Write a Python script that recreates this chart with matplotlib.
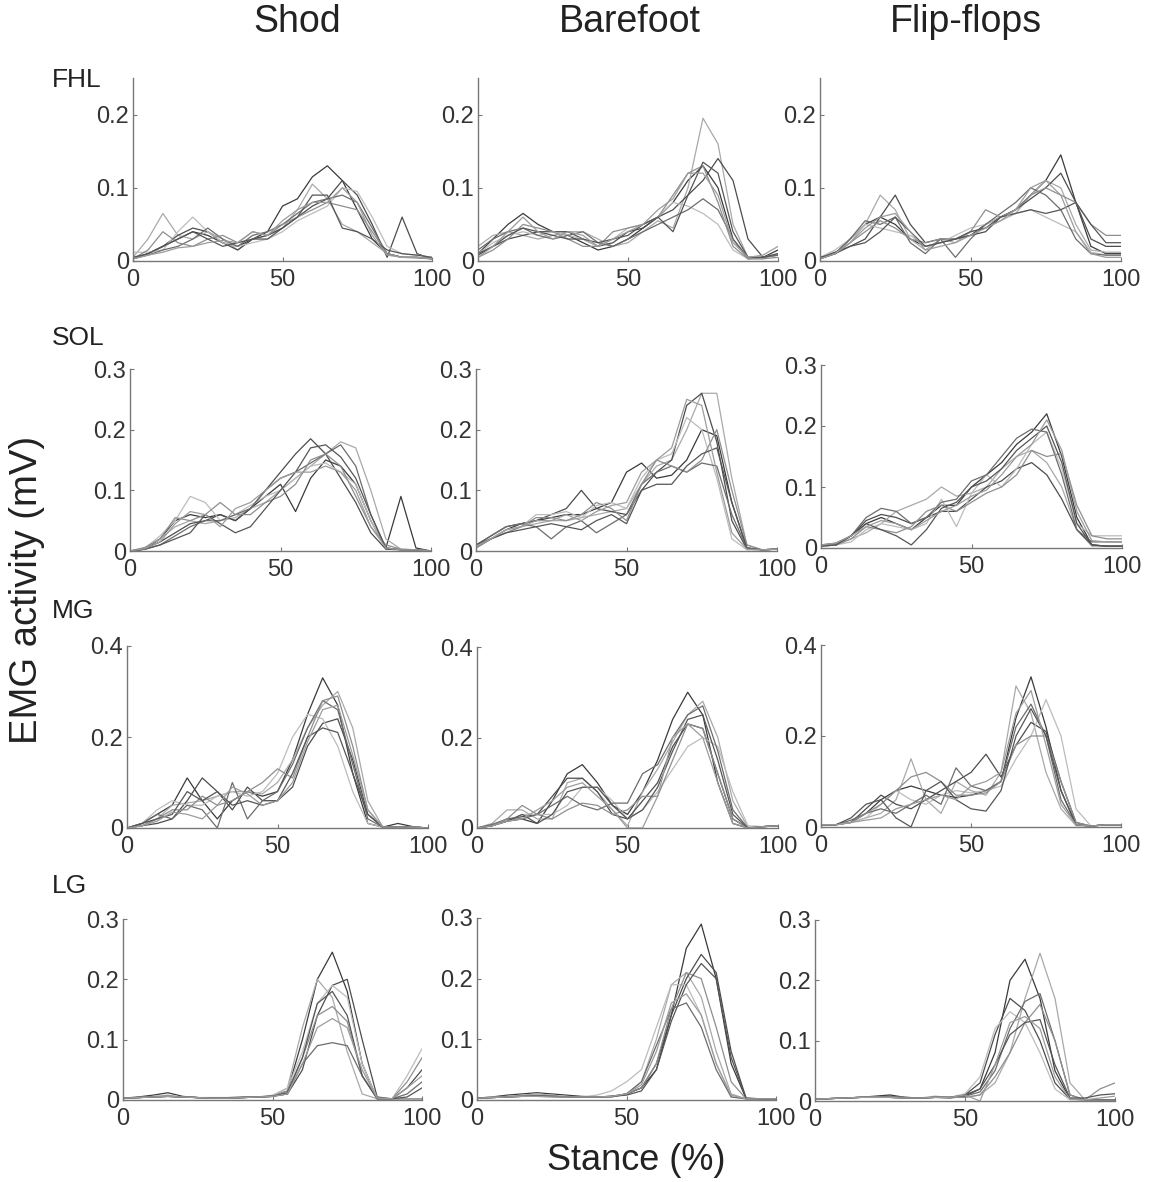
import matplotlib
matplotlib.use("Agg")
import matplotlib.pyplot as plt

plt.rcParams["font.family"] = ["Liberation Sans", "DejaVu Sans"]

# stance (%) sample points shared by every curve
STANCE = list(range(0, 101, 5))

CONDITIONS = ["Shod", "Barefoot", "Flip-flops"]
MUSCLES = ["FHL", "SOL", "MG", "LG"]
Y_MAX = [0.25, 0.3, 0.4, 0.3]
Y_TICKS = [[0, 0.1, 0.2], [0, 0.1, 0.2, 0.3], [0, 0.2, 0.4], [0, 0.1, 0.2, 0.3]]
Y_TICK_LABELS = [["0", "0.1", "0.2"], ["0", "0.1", "0.2", "0.3"],
                 ["0", "0.2", "0.4"], ["0", "0.1", "0.2", "0.3"]]

# EMG activity (mV), one list per trial, sampled at STANCE
FHL_SHOD = [
    [0.003, 0.01, 0.02, 0.03, 0.04, 0.035, 0.025, 0.02, 0.03, 0.04, 0.075, 0.085, 0.115, 0.13, 0.11, 0.07, 0.03, 0.01, 0.005, 0.005, 0.003],
    [0.005, 0.03, 0.065, 0.035, 0.03, 0.04, 0.03, 0.015, 0.03, 0.035, 0.045, 0.07, 0.105, 0.085, 0.05, 0.04, 0.025, 0.01, 0.005, 0.005, 0.003],
    [0.003, 0.01, 0.02, 0.035, 0.045, 0.04, 0.025, 0.015, 0.03, 0.035, 0.045, 0.06, 0.075, 0.085, 0.11, 0.09, 0.05, 0.005, 0.06, 0.01, 0.003],
    [0.012, 0.012, 0.015, 0.04, 0.06, 0.04, 0.025, 0.02, 0.025, 0.03, 0.04, 0.055, 0.065, 0.075, 0.1, 0.095, 0.06, 0.02, 0.01, 0.008, 0.005],
    [0.003, 0.008, 0.015, 0.02, 0.03, 0.045, 0.03, 0.02, 0.035, 0.04, 0.05, 0.065, 0.08, 0.085, 0.09, 0.08, 0.045, 0.01, 0.005, 0.005, 0.003],
    [0.003, 0.015, 0.04, 0.025, 0.02, 0.03, 0.035, 0.025, 0.04, 0.035, 0.05, 0.06, 0.07, 0.08, 0.075, 0.07, 0.04, 0.01, 0.005, 0.004, 0.003],
    [0.005, 0.01, 0.02, 0.03, 0.04, 0.03, 0.02, 0.025, 0.03, 0.03, 0.045, 0.06, 0.09, 0.09, 0.045, 0.04, 0.03, 0.015, 0.01, 0.008, 0.005],
    [0.003, 0.008, 0.012, 0.018, 0.02, 0.025, 0.028, 0.025, 0.04, 0.035, 0.055, 0.07, 0.08, 0.08, 0.1, 0.08, 0.035, 0.008, 0.005, 0.005, 0.003],
]
FHL_BAREFOOT = [
    [0.01, 0.03, 0.05, 0.065, 0.05, 0.04, 0.035, 0.025, 0.015, 0.02, 0.03, 0.045, 0.06, 0.08, 0.11, 0.13, 0.1, 0.03, 0.003, 0.005, 0.015],
    [0.02, 0.035, 0.04, 0.035, 0.03, 0.035, 0.04, 0.04, 0.03, 0.02, 0.025, 0.04, 0.055, 0.045, 0.1, 0.195, 0.16, 0.05, 0.005, 0.005, 0.01],
    [0.008, 0.02, 0.03, 0.035, 0.04, 0.04, 0.04, 0.03, 0.02, 0.025, 0.04, 0.045, 0.06, 0.07, 0.09, 0.11, 0.14, 0.11, 0.03, 0.005, 0.008],
    [0.01, 0.025, 0.035, 0.04, 0.035, 0.04, 0.035, 0.03, 0.02, 0.03, 0.045, 0.05, 0.06, 0.08, 0.075, 0.065, 0.05, 0.015, 0.003, 0.003, 0.01],
    [0.015, 0.03, 0.04, 0.045, 0.035, 0.03, 0.035, 0.04, 0.025, 0.02, 0.03, 0.04, 0.05, 0.06, 0.07, 0.085, 0.07, 0.03, 0.005, 0.005, 0.008],
    [0.005, 0.015, 0.03, 0.05, 0.045, 0.04, 0.03, 0.02, 0.02, 0.04, 0.045, 0.05, 0.06, 0.09, 0.12, 0.13, 0.08, 0.02, 0.003, 0.003, 0.005],
    [0.01, 0.02, 0.035, 0.045, 0.04, 0.035, 0.03, 0.03, 0.025, 0.03, 0.035, 0.05, 0.06, 0.04, 0.09, 0.135, 0.12, 0.04, 0.005, 0.005, 0.01],
    [0.005, 0.02, 0.04, 0.06, 0.04, 0.03, 0.04, 0.035, 0.02, 0.03, 0.04, 0.05, 0.07, 0.085, 0.12, 0.12, 0.09, 0.025, 0.005, 0.008, 0.02],
]
FHL_FLIPFLOPS = [
    [0.003, 0.01, 0.03, 0.05, 0.06, 0.05, 0.03, 0.02, 0.025, 0.03, 0.035, 0.05, 0.06, 0.07, 0.09, 0.11, 0.145, 0.08, 0.02, 0.01, 0.01],
    [0.003, 0.01, 0.025, 0.05, 0.09, 0.07, 0.03, 0.015, 0.03, 0.025, 0.04, 0.045, 0.055, 0.065, 0.09, 0.11, 0.1, 0.05, 0.015, 0.012, 0.012],
    [0.005, 0.012, 0.02, 0.03, 0.06, 0.09, 0.05, 0.025, 0.03, 0.03, 0.035, 0.04, 0.06, 0.07, 0.085, 0.1, 0.12, 0.08, 0.03, 0.02, 0.02],
    [0.005, 0.015, 0.03, 0.05, 0.045, 0.04, 0.035, 0.02, 0.025, 0.035, 0.045, 0.05, 0.06, 0.065, 0.07, 0.06, 0.05, 0.04, 0.012, 0.008, 0.008],
    [0.003, 0.01, 0.03, 0.055, 0.05, 0.06, 0.025, 0.01, 0.03, 0.005, 0.03, 0.05, 0.065, 0.08, 0.1, 0.09, 0.07, 0.03, 0.01, 0.008, 0.008],
    [0.005, 0.01, 0.025, 0.04, 0.055, 0.045, 0.03, 0.025, 0.03, 0.03, 0.04, 0.07, 0.06, 0.07, 0.09, 0.1, 0.09, 0.08, 0.05, 0.035, 0.035],
    [0.005, 0.01, 0.02, 0.025, 0.04, 0.06, 0.04, 0.02, 0.025, 0.03, 0.04, 0.045, 0.06, 0.065, 0.07, 0.065, 0.07, 0.08, 0.05, 0.025, 0.025],
    [0.003, 0.01, 0.025, 0.045, 0.06, 0.065, 0.04, 0.015, 0.02, 0.025, 0.035, 0.045, 0.055, 0.07, 0.1, 0.11, 0.09, 0.04, 0.01, 0.005, 0.005],
]
SOL_SHOD = [
    [0, 0.003, 0.02, 0.05, 0.06, 0.055, 0.06, 0.05, 0.07, 0.09, 0.11, 0.065, 0.12, 0.15, 0.14, 0.11, 0.05, 0.005, 0.09, 0.005, 0],
    [0, 0.005, 0.02, 0.04, 0.05, 0.045, 0.05, 0.055, 0.07, 0.08, 0.1, 0.12, 0.14, 0.16, 0.18, 0.17, 0.1, 0.02, 0.003, 0.002, 0],
    [0, 0.004, 0.015, 0.03, 0.045, 0.05, 0.06, 0.05, 0.07, 0.1, 0.13, 0.16, 0.185, 0.16, 0.12, 0.08, 0.03, 0.003, 0.002, 0.002, 0],
    [0, 0.005, 0.025, 0.05, 0.09, 0.08, 0.05, 0.06, 0.075, 0.09, 0.1, 0.12, 0.14, 0.145, 0.13, 0.11, 0.05, 0.005, 0.002, 0.002, 0],
    [0, 0.003, 0.01, 0.025, 0.04, 0.05, 0.05, 0.06, 0.07, 0.1, 0.12, 0.13, 0.145, 0.16, 0.175, 0.14, 0.06, 0.005, 0.002, 0.002, 0],
    [0, 0.006, 0.02, 0.055, 0.05, 0.06, 0.08, 0.06, 0.06, 0.08, 0.09, 0.11, 0.15, 0.16, 0.14, 0.09, 0.04, 0.01, 0.003, 0.002, 0],
    [0, 0.003, 0.01, 0.02, 0.03, 0.06, 0.045, 0.03, 0.04, 0.07, 0.1, 0.13, 0.17, 0.175, 0.155, 0.12, 0.06, 0.005, 0.002, 0.002, 0],
    [0, 0.004, 0.015, 0.045, 0.065, 0.06, 0.04, 0.07, 0.08, 0.1, 0.12, 0.13, 0.13, 0.14, 0.13, 0.1, 0.04, 0.005, 0.002, 0.002, 0],
]
SOL_BAREFOOT = [
    [0.005, 0.02, 0.035, 0.045, 0.05, 0.055, 0.06, 0.06, 0.07, 0.08, 0.13, 0.145, 0.12, 0.125, 0.15, 0.2, 0.19, 0.08, 0.005, 0.002, 0.003],
    [0.008, 0.02, 0.03, 0.04, 0.045, 0.05, 0.05, 0.055, 0.06, 0.065, 0.07, 0.11, 0.14, 0.15, 0.2, 0.26, 0.26, 0.12, 0.01, 0.002, 0.003],
    [0.01, 0.025, 0.04, 0.045, 0.05, 0.06, 0.07, 0.1, 0.07, 0.065, 0.06, 0.1, 0.13, 0.15, 0.24, 0.26, 0.18, 0.05, 0.003, 0.002, 0.003],
    [0.005, 0.02, 0.035, 0.04, 0.06, 0.06, 0.065, 0.055, 0.075, 0.08, 0.07, 0.12, 0.15, 0.16, 0.22, 0.2, 0.12, 0.02, 0.002, 0.002, 0.003],
    [0.008, 0.025, 0.04, 0.045, 0.04, 0.02, 0.04, 0.05, 0.03, 0.045, 0.06, 0.11, 0.13, 0.14, 0.13, 0.145, 0.14, 0.06, 0.005, 0.002, 0.003],
    [0.005, 0.02, 0.03, 0.04, 0.055, 0.055, 0.05, 0.06, 0.08, 0.07, 0.05, 0.11, 0.15, 0.14, 0.13, 0.15, 0.2, 0.1, 0.01, 0.002, 0.003],
    [0.01, 0.02, 0.03, 0.035, 0.04, 0.045, 0.04, 0.035, 0.05, 0.06, 0.045, 0.1, 0.11, 0.11, 0.14, 0.16, 0.17, 0.08, 0.005, 0.002, 0.003],
    [0.008, 0.02, 0.035, 0.04, 0.05, 0.05, 0.06, 0.05, 0.065, 0.075, 0.08, 0.13, 0.15, 0.17, 0.25, 0.24, 0.13, 0.03, 0.003, 0.002, 0.003],
]
SOL_FLIPFLOPS = [
    [0.005, 0.005, 0.02, 0.04, 0.05, 0.04, 0.03, 0.05, 0.07, 0.07, 0.1, 0.12, 0.14, 0.17, 0.19, 0.22, 0.15, 0.05, 0.005, 0.003, 0.003],
    [0.003, 0.005, 0.015, 0.025, 0.04, 0.06, 0.07, 0.08, 0.1, 0.085, 0.09, 0.1, 0.13, 0.15, 0.16, 0.14, 0.1, 0.03, 0.003, 0.003, 0.003],
    [0.005, 0.008, 0.02, 0.045, 0.055, 0.05, 0.04, 0.05, 0.06, 0.06, 0.08, 0.1, 0.11, 0.13, 0.14, 0.12, 0.08, 0.03, 0.005, 0.003, 0.003],
    [0.003, 0.005, 0.01, 0.03, 0.04, 0.035, 0.03, 0.04, 0.08, 0.035, 0.09, 0.12, 0.1, 0.13, 0.17, 0.19, 0.13, 0.04, 0.02, 0.02, 0.02],
    [0.005, 0.005, 0.02, 0.05, 0.065, 0.06, 0.04, 0.05, 0.075, 0.08, 0.11, 0.12, 0.15, 0.18, 0.195, 0.19, 0.12, 0.03, 0.01, 0.01, 0.01],
    [0.003, 0.005, 0.015, 0.035, 0.03, 0.025, 0.035, 0.06, 0.07, 0.06, 0.075, 0.09, 0.1, 0.12, 0.16, 0.15, 0.155, 0.07, 0.02, 0.015, 0.015],
    [0.003, 0.005, 0.02, 0.04, 0.03, 0.02, 0.005, 0.03, 0.065, 0.075, 0.1, 0.11, 0.13, 0.16, 0.18, 0.2, 0.14, 0.04, 0.005, 0.003, 0.003],
    [0.005, 0.008, 0.02, 0.035, 0.045, 0.04, 0.03, 0.045, 0.06, 0.07, 0.085, 0.095, 0.12, 0.15, 0.17, 0.21, 0.16, 0.06, 0.012, 0.01, 0.01],
]
MG_SHOD = [
    [0, 0.01, 0.03, 0.05, 0.11, 0.06, 0.02, 0.06, 0.08, 0.07, 0.08, 0.15, 0.25, 0.33, 0.27, 0.12, 0.01, 0.002, 0.01, 0.003, 0],
    [0, 0.005, 0.02, 0.05, 0.055, 0.06, 0.07, 0.08, 0.08, 0.075, 0.1, 0.15, 0.22, 0.27, 0.3, 0.22, 0.06, 0.002, 0.002, 0.002, 0],
    [0, 0.005, 0.01, 0.02, 0.06, 0.11, 0.08, 0.04, 0.09, 0.06, 0.06, 0.09, 0.18, 0.23, 0.24, 0.15, 0.03, 0.002, 0.002, 0.002, 0],
    [0, 0.01, 0.04, 0.06, 0.05, 0.05, 0.07, 0.08, 0.07, 0.08, 0.12, 0.2, 0.25, 0.24, 0.18, 0.08, 0.01, 0.002, 0.002, 0.002, 0],
    [0, 0.01, 0.03, 0.02, 0.05, 0.04, 0.0, 0.1, 0.02, 0.06, 0.08, 0.14, 0.22, 0.28, 0.26, 0.14, 0.02, 0.002, 0.002, 0.002, 0],
    [0, 0.005, 0.02, 0.04, 0.04, 0.07, 0.05, 0.06, 0.08, 0.1, 0.13, 0.11, 0.2, 0.28, 0.29, 0.18, 0.04, 0.002, 0.002, 0.002, 0],
    [0, 0.01, 0.02, 0.03, 0.08, 0.06, 0.08, 0.05, 0.06, 0.05, 0.06, 0.12, 0.2, 0.22, 0.21, 0.12, 0.03, 0.002, 0.002, 0.002, 0],
    [0, 0.005, 0.015, 0.035, 0.03, 0.02, 0.05, 0.09, 0.075, 0.05, 0.06, 0.1, 0.19, 0.26, 0.27, 0.16, 0.04, 0.002, 0.002, 0.002, 0],
]
MG_BAREFOOT = [
    [0, 0.005, 0.015, 0.02, 0.01, 0.06, 0.12, 0.14, 0.1, 0.05, 0.03, 0.08, 0.15, 0.24, 0.3, 0.25, 0.1, 0.01, 0, 0.003, 0.005],
    [0, 0.01, 0.04, 0.04, 0.02, 0.02, 0.1, 0.11, 0.08, 0.04, 0.005, 0.08, 0.13, 0.19, 0.25, 0.28, 0.2, 0.06, 0.002, 0.003, 0.005],
    [0, 0.005, 0.02, 0.025, 0.03, 0.07, 0.11, 0.11, 0.08, 0.03, 0.02, 0.06, 0.1, 0.18, 0.23, 0.22, 0.12, 0.02, 0, 0.003, 0.005],
    [0, 0.005, 0.015, 0.03, 0.03, 0.03, 0.05, 0.09, 0.09, 0.06, 0.02, 0.04, 0.08, 0.13, 0.18, 0.2, 0.18, 0.08, 0.005, 0.003, 0.005],
    [0, 0.008, 0.02, 0.02, 0.03, 0.05, 0.07, 0.05, 0.04, 0.055, 0.055, 0.12, 0.14, 0.2, 0.25, 0.27, 0.17, 0.04, 0, 0.003, 0.005],
    [0, 0.005, 0.02, 0.05, 0.03, 0.02, 0.04, 0.055, 0.05, 0.03, 0.04, 0.07, 0.07, 0.15, 0.23, 0.22, 0.12, 0.02, 0, 0.003, 0.005],
    [0, 0.005, 0.015, 0.03, 0.01, 0.03, 0.08, 0.09, 0.09, 0.05, 0.02, 0.04, 0.09, 0.17, 0.24, 0.25, 0.15, 0.03, 0, 0.003, 0.005],
    [0, 0.005, 0.015, 0.02, 0.04, 0.06, 0.09, 0.1, 0.07, 0.04, 0.0, 0.0, 0.07, 0.2, 0.23, 0.2, 0.1, 0.01, 0, 0.003, 0.005],
]
MG_FLIPFLOPS = [
    [0.005, 0.005, 0.01, 0.03, 0.06, 0.08, 0.09, 0.08, 0.07, 0.065, 0.07, 0.08, 0.1, 0.24, 0.33, 0.22, 0.08, 0.005, 0.002, 0.005, 0.005],
    [0.005, 0.005, 0.01, 0.02, 0.03, 0.06, 0.15, 0.06, 0.03, 0.1, 0.08, 0.07, 0.12, 0.31, 0.25, 0.12, 0.04, 0.003, 0.002, 0.005, 0.005],
    [0.005, 0.005, 0.01, 0.04, 0.07, 0.05, 0.04, 0.06, 0.08, 0.1, 0.12, 0.16, 0.11, 0.18, 0.23, 0.21, 0.1, 0.01, 0.002, 0.005, 0.005],
    [0.005, 0.005, 0.01, 0.02, 0.05, 0.08, 0.06, 0.05, 0.07, 0.08, 0.075, 0.08, 0.09, 0.15, 0.2, 0.28, 0.2, 0.04, 0.002, 0.005, 0.005],
    [0.005, 0.005, 0.015, 0.03, 0.04, 0.03, 0.05, 0.07, 0.05, 0.13, 0.09, 0.08, 0.1, 0.22, 0.27, 0.2, 0.06, 0.005, 0.002, 0.005, 0.005],
    [0.005, 0.005, 0.01, 0.03, 0.05, 0.08, 0.11, 0.12, 0.1, 0.07, 0.07, 0.075, 0.1, 0.18, 0.2, 0.2, 0.1, 0.01, 0.002, 0.005, 0.005],
    [0.005, 0.005, 0.02, 0.05, 0.06, 0.02, 0.0, 0.08, 0.1, 0.06, 0.04, 0.035, 0.08, 0.2, 0.26, 0.2, 0.08, 0.005, 0.002, 0.005, 0.005],
    [0.005, 0.005, 0.01, 0.015, 0.02, 0.04, 0.05, 0.06, 0.07, 0.06, 0.09, 0.1, 0.12, 0.25, 0.3, 0.18, 0.05, 0.005, 0.002, 0.005, 0.005],
]
LG_SHOD = [
    [0.003, 0.005, 0.008, 0.012, 0.006, 0.004, 0.003, 0.003, 0.004, 0.005, 0.006, 0.015, 0.1, 0.2, 0.245, 0.18, 0.06, 0.002, 0.002, 0.002, 0.002],
    [0.003, 0.004, 0.006, 0.008, 0.005, 0.004, 0.003, 0.003, 0.004, 0.005, 0.006, 0.02, 0.12, 0.2, 0.17, 0.08, 0.01, 0.002, 0.002, 0.002, 0.002],
    [0.003, 0.004, 0.005, 0.006, 0.005, 0.004, 0.004, 0.004, 0.005, 0.005, 0.006, 0.01, 0.05, 0.14, 0.19, 0.2, 0.1, 0.005, 0.002, 0.02, 0.05],
    [0.003, 0.004, 0.005, 0.007, 0.005, 0.004, 0.003, 0.003, 0.004, 0.005, 0.008, 0.02, 0.08, 0.16, 0.19, 0.17, 0.06, 0.003, 0.002, 0.04, 0.085],
    [0.003, 0.004, 0.005, 0.006, 0.005, 0.004, 0.003, 0.003, 0.004, 0.005, 0.007, 0.01, 0.06, 0.09, 0.095, 0.09, 0.04, 0.003, 0.002, 0.01, 0.03],
    [0.003, 0.004, 0.005, 0.006, 0.005, 0.004, 0.003, 0.003, 0.004, 0.005, 0.006, 0.015, 0.07, 0.14, 0.155, 0.13, 0.04, 0.002, 0.002, 0.03, 0.07],
    [0.003, 0.004, 0.005, 0.006, 0.005, 0.004, 0.003, 0.003, 0.004, 0.005, 0.006, 0.012, 0.07, 0.16, 0.18, 0.14, 0.04, 0.002, 0.002, 0.005, 0.02],
    [0.003, 0.004, 0.005, 0.006, 0.005, 0.004, 0.003, 0.003, 0.004, 0.005, 0.006, 0.01, 0.06, 0.12, 0.135, 0.12, 0.05, 0.003, 0.002, 0.02, 0.04],
]
LG_BAREFOOT = [
    [0.003, 0.005, 0.008, 0.01, 0.012, 0.01, 0.008, 0.006, 0.005, 0.005, 0.01, 0.02, 0.05, 0.14, 0.25, 0.29, 0.2, 0.06, 0.002, 0.002, 0.002],
    [0.003, 0.005, 0.006, 0.008, 0.01, 0.008, 0.006, 0.005, 0.005, 0.005, 0.01, 0.03, 0.1, 0.19, 0.21, 0.17, 0.08, 0.01, 0.002, 0.002, 0.002],
    [0.003, 0.004, 0.005, 0.006, 0.007, 0.006, 0.005, 0.005, 0.005, 0.006, 0.01, 0.02, 0.06, 0.14, 0.2, 0.24, 0.21, 0.08, 0.003, 0.002, 0.002],
    [0.003, 0.004, 0.005, 0.006, 0.006, 0.005, 0.005, 0.005, 0.008, 0.015, 0.03, 0.05, 0.12, 0.19, 0.19, 0.14, 0.06, 0.005, 0.002, 0.002, 0.002],
    [0.003, 0.004, 0.005, 0.006, 0.007, 0.006, 0.005, 0.005, 0.005, 0.006, 0.01, 0.03, 0.09, 0.15, 0.16, 0.12, 0.05, 0.005, 0.002, 0.002, 0.002],
    [0.003, 0.004, 0.005, 0.007, 0.008, 0.006, 0.005, 0.005, 0.005, 0.006, 0.01, 0.02, 0.06, 0.15, 0.21, 0.2, 0.12, 0.03, 0.002, 0.002, 0.002],
    [0.003, 0.004, 0.005, 0.006, 0.007, 0.006, 0.005, 0.005, 0.005, 0.006, 0.008, 0.015, 0.05, 0.13, 0.19, 0.225, 0.2, 0.07, 0.003, 0.002, 0.002],
    [0.003, 0.004, 0.005, 0.006, 0.006, 0.005, 0.005, 0.005, 0.005, 0.006, 0.01, 0.025, 0.08, 0.16, 0.175, 0.14, 0.06, 0.008, 0.002, 0.002, 0.002],
]
LG_FLIPFLOPS = [
    [0.003, 0.004, 0.005, 0.006, 0.008, 0.01, 0.006, 0.005, 0.006, 0.005, 0.008, 0.02, 0.08, 0.2, 0.235, 0.17, 0.05, 0.003, 0.002, 0.002, 0.002],
    [0.003, 0.004, 0.005, 0.006, 0.006, 0.006, 0.005, 0.005, 0.008, 0.006, 0.006, 0.01, 0.03, 0.08, 0.17, 0.245, 0.17, 0.03, 0.002, 0.002, 0.002],
    [0.003, 0.004, 0.005, 0.006, 0.007, 0.008, 0.006, 0.005, 0.006, 0.006, 0.01, 0.03, 0.11, 0.17, 0.15, 0.1, 0.03, 0.003, 0.002, 0.002, 0.002],
    [0.003, 0.004, 0.005, 0.006, 0.007, 0.006, 0.005, 0.005, 0.006, 0.006, 0.012, 0.04, 0.12, 0.148, 0.13, 0.08, 0.02, 0.002, 0.002, 0.002, 0.002],
    [0.003, 0.004, 0.005, 0.006, 0.006, 0.006, 0.005, 0.005, 0.006, 0.006, 0.008, 0.015, 0.05, 0.12, 0.165, 0.178, 0.1, 0.01, 0.002, 0.002, 0.002],
    [0.003, 0.004, 0.005, 0.006, 0.006, 0.007, 0.006, 0.005, 0.006, 0.006, 0.006, 0.01, 0.04, 0.08, 0.13, 0.16, 0.1, 0.01, 0.002, 0.02, 0.03],
    [0.003, 0.004, 0.005, 0.006, 0.006, 0.006, 0.005, 0.005, 0.006, 0.006, 0.01, 0.02, 0.06, 0.11, 0.13, 0.135, 0.06, 0.005, 0.005, 0.01, 0.012],
    [0.003, 0.004, 0.005, 0.006, 0.006, 0.006, 0.005, 0.005, 0.006, 0.006, 0.01, 0.0, 0.06, 0.13, 0.14, 0.12, 0.04, 0.003, 0.002, 0.005, 0.008],
]

PANELS = [
    [FHL_SHOD, FHL_BAREFOOT, FHL_FLIPFLOPS],
    [SOL_SHOD, SOL_BAREFOOT, SOL_FLIPFLOPS],
    [MG_SHOD, MG_BAREFOOT, MG_FLIPFLOPS],
    [LG_SHOD, LG_BAREFOOT, LG_FLIPFLOPS],
]

GRAYS = ["#3a3a3a", "#a9a9a9", "#4c4c4c", "#bcbcbc", "#6c6c6c", "#8e8e8e", "#555555", "#9c9c9c"]

BOXES = [
    [(133, 432, 78, 261), (478, 778, 78, 261), (820, 1121, 78, 261)],
    [(130, 431, 369, 551), (476, 777, 369, 551), (821, 1122, 365, 548)],
    [(127, 428, 646, 828), (477, 778, 647, 828), (821, 1121, 645, 827)],
    [(123, 422, 919, 1100), (477, 776, 918, 1100), (815, 1115, 920, 1101)],
]
ROW_LABEL_Y = [80, 338, 611, 886]

W, H = 1153, 1182
fig = plt.figure(figsize=(W / 100, H / 100), dpi=100)

for r in range(4):
    for c in range(3):
        left, right, top, bottom = BOXES[r][c]
        ax = fig.add_axes([left / W, 1 - bottom / H, (right - left) / W, (bottom - top) / H])
        for i, trial in enumerate(PANELS[r][c]):
            ax.plot(STANCE, trial, color=GRAYS[i % len(GRAYS)], lw=0.9)
        ax.set_xlim(0, 100)
        ax.set_ylim(0, Y_MAX[r])
        ax.set_xticks([0, 50, 100])
        ax.set_xticklabels(["0", "50", "100"])
        ax.set_yticks(Y_TICKS[r])
        ax.set_yticklabels(Y_TICK_LABELS[r])
        for side in ("top", "right"):
            ax.spines[side].set_visible(False)
        for side in ("left", "bottom"):
            ax.spines[side].set_color("#777777")
            ax.spines[side].set_linewidth(1.0)
        ax.tick_params(direction="in", length=3, width=0.8, color="#777777",
                       labelsize=17, labelcolor="#333333")
        ax.tick_params(axis="x", pad=6)
        ax.tick_params(axis="y", pad=3)
        ax.patch.set_alpha(0)

    fig.text(52 / W, 1 - ROW_LABEL_Y[r] / H, MUSCLES[r], fontsize=19,
             ha="left", va="center", color="#222222")

for x, name in zip([297, 630, 966], CONDITIONS):
    fig.text(x / W, 1 - 22 / H, name, fontsize=27, ha="center", va="center", color="#222222")

fig.text(27 / W, 1 - 590 / H, "EMG activity (mV)", fontsize=27.5, rotation=90,
         ha="center", va="center", color="#222222")
fig.text(636 / W, 1 - 1160 / H, "Stance (%)", fontsize=26, ha="center", va="center",
         color="#222222")

fig.savefig("out.png", dpi=100)
